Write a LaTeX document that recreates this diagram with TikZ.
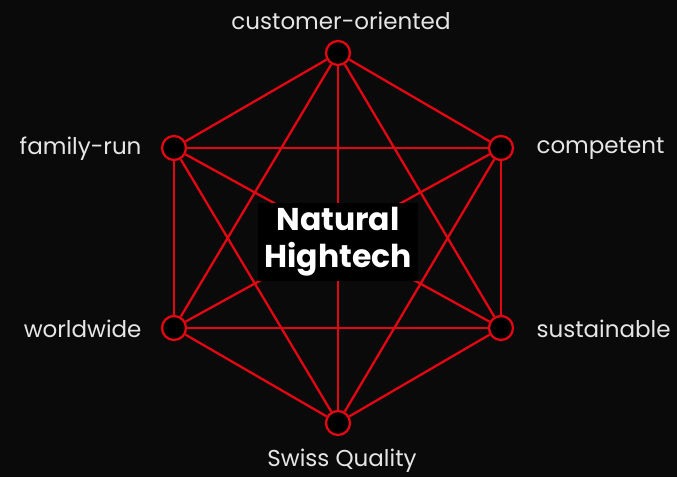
\documentclass[tikz,border=0pt]{standalone}
\usepackage{fontspec}
\setmainfont{Poppins}
\definecolor{hexred}{HTML}{E30613}
\definecolor{bgblack}{HTML}{0A0A0A}
\definecolor{labelgray}{HTML}{E6E6E6}
\tikzset{
  dot/.style={circle, draw=hexred, line width=2.3pt, fill=black, minimum size=24pt, inner sep=0pt},
  edge/.style={hexred, line width=2.3pt},
  lbl/.style={text=labelgray, font=\fontsize{23}{26}\selectfont},
}
\begin{document}
\begin{tikzpicture}[x=1pt,y=-1pt]
    \fill [bgblack] (0,0) rectangle (677,477);% background
    \useasboundingbox (0,0) rectangle (677,477);
    \node [dot] (Top)        at (338,53)  {};
    \node [dot] (UpRight)    at (501,148) {};
    \node [dot] (LowRight)   at (501,328) {};
    \node [dot] (Bottom)     at (338,423) {};
    \node [dot] (LowLeft)    at (174,328) {};
    \node [dot] (UpLeft)     at (174,148) {};
    \foreach \a/\rest in {Top/{UpRight,LowRight,Bottom,LowLeft,UpLeft},
                          UpRight/{LowRight,Bottom,LowLeft,UpLeft},
                          LowRight/{Bottom,LowLeft,UpLeft},
                          Bottom/{LowLeft,UpLeft},
                          LowLeft/{UpLeft}}
      \foreach \b in \rest
        \draw [edge] (\a) -- (\b);% every pair of points
    \node [fill=black, text=white, align=center, minimum width=160pt, minimum height=78pt, inner sep=2pt,
           font=\bfseries\fontsize{31.5}{37}\selectfont] (Center) at (338,242) {Natural\\Hightech};
    \node [lbl] (TopLbl)      at (341,21)  {customer-oriented};
    \node [lbl, anchor=west] (URLbl) at (533,149) {competent};
    \node [lbl, anchor=west] (LRLbl) at (533,329) {sustainable};
    \node [lbl] (BotLbl)      at (342,461) {Swiss Quality};
    \node [lbl, anchor=east] (LLLbl) at (145,329) {worldwide};
    \node [lbl, anchor=east] (ULLbl) at (145,149) {family-run};
\end{tikzpicture}
\end{document}
